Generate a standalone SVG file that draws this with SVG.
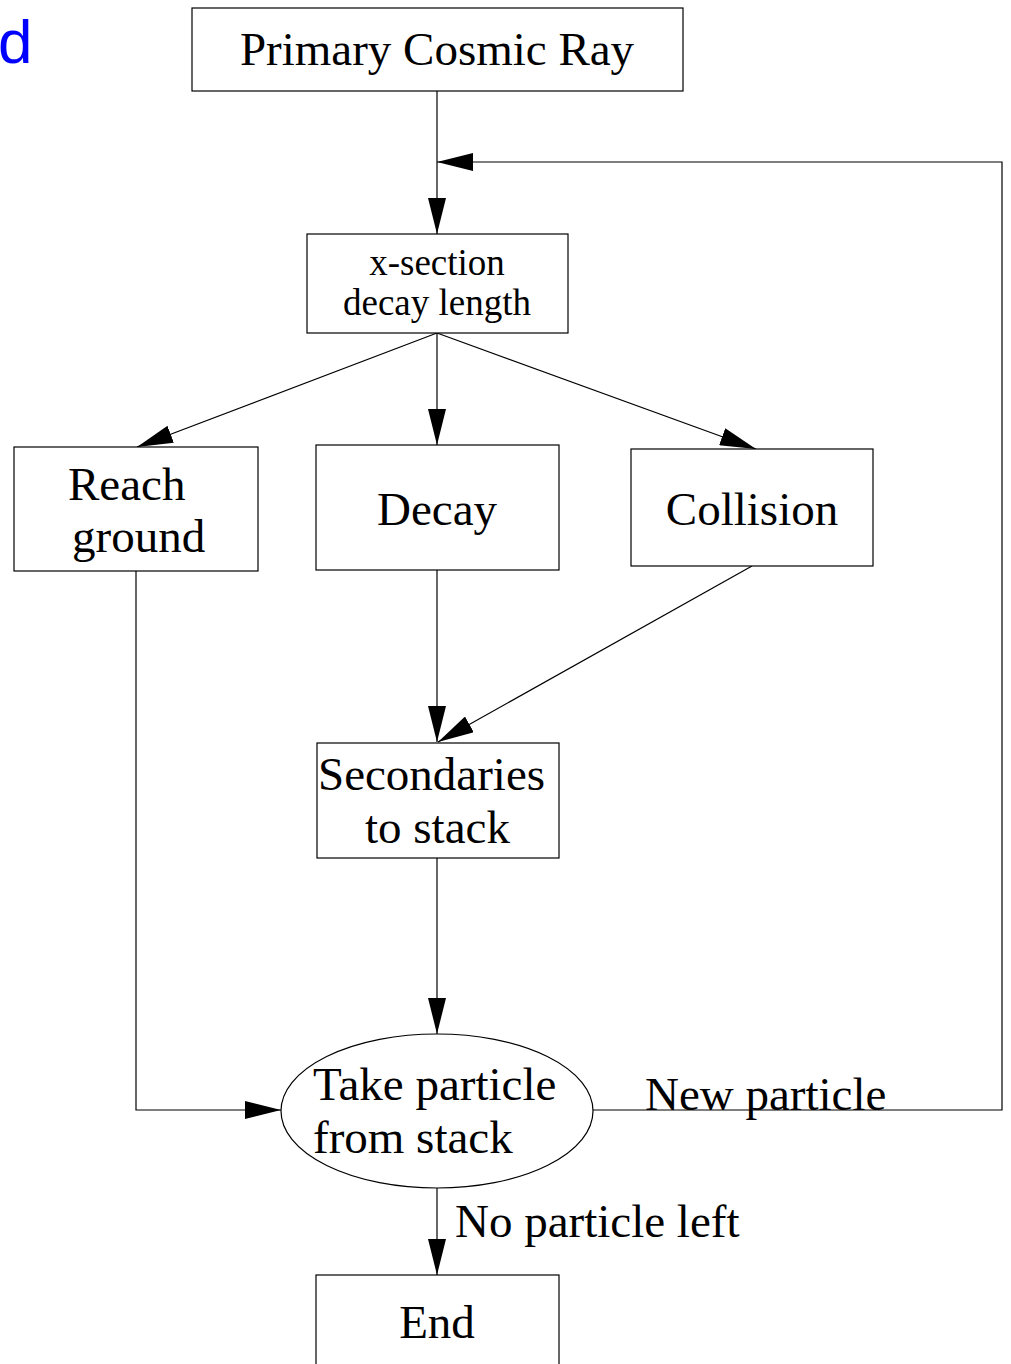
<svg xmlns="http://www.w3.org/2000/svg" width="1011" height="1364" viewBox="0 0 1011 1364">
<style>
.box{fill:#fff;stroke:#000;stroke-width:1.2}
.t{font-family:"Liberation Serif","Times New Roman",serif;font-size:47px;fill:#000}
.ts{font-family:"Liberation Serif","Times New Roman",serif;font-size:37px;fill:#000}
.c{fill:none;stroke:#000;stroke-width:1.2}
</style>
<defs>
<marker id="ah" viewBox="0 0 36 18" refX="36" refY="9" markerWidth="36" markerHeight="18" markerUnits="userSpaceOnUse" orient="auto">
<path d="M0,0 L36,9 L0,18 Z" fill="#000"/>
</marker>
</defs>
<rect width="1011" height="1364" fill="#fff"/>
<text x="-2" y="63" font-family="Liberation Sans, Arial, sans-serif" font-size="62" fill="#0000ff">d</text>
<g id="connectors">
<line class="c" x1="437" y1="91" x2="437" y2="234" marker-end="url(#ah)"/>
<polyline class="c" points="593,1110 1002,1110 1002,162 437,162" marker-end="url(#ah)"/>
<line class="c" x1="437" y1="333" x2="137" y2="447" marker-end="url(#ah)"/>
<line class="c" x1="437" y1="333" x2="437" y2="445" marker-end="url(#ah)"/>
<line class="c" x1="437" y1="333" x2="756" y2="449" marker-end="url(#ah)"/>
<line class="c" x1="437" y1="570" x2="437" y2="742" marker-end="url(#ah)"/>
<line class="c" x1="752" y1="566" x2="438" y2="742" marker-end="url(#ah)"/>
<line class="c" x1="437" y1="858" x2="437" y2="1034" marker-end="url(#ah)"/>
<polyline class="c" points="136,571 136,1110 281,1110" marker-end="url(#ah)"/>
<line class="c" x1="437" y1="1188" x2="437" y2="1275" marker-end="url(#ah)"/>
<text class="t" x="645" y="1110">New particle</text>
<text class="t" x="455" y="1237">No particle left</text>
</g>
<g id="primary">
<rect class="box" x="192" y="8" width="491" height="83"/>
<text class="t" x="437" y="65" text-anchor="middle">Primary Cosmic Ray</text>
</g>
<g id="xsection">
<rect class="box" x="307" y="234" width="261" height="99"/>
<text class="ts" x="437" y="275" text-anchor="middle">x-section</text>
<text class="ts" x="437" y="315" text-anchor="middle">decay length</text>
</g>
<g id="reach">
<rect class="box" x="14" y="447" width="244" height="124"/>
<text class="t" x="68" y="500">Reach</text>
<text class="t" x="72" y="552">ground</text>
</g>
<g id="decay">
<rect class="box" x="316" y="445" width="243" height="125"/>
<text class="t" x="437" y="525" text-anchor="middle">Decay</text>
</g>
<g id="collision">
<rect class="box" x="631" y="449" width="242" height="117"/>
<text class="t" x="752" y="525" text-anchor="middle">Collision</text>
</g>
<g id="secondaries">
<rect class="box" x="317" y="743" width="242" height="115"/>
<text class="t" x="318" y="790">Secondaries</text>
<text class="t" x="365" y="843">to stack</text>
</g>
<g id="stack">
<ellipse class="box" cx="437" cy="1111" rx="156" ry="77"/>
<text class="t" x="313" y="1100">Take particle</text>
<text class="t" x="313" y="1153">from stack</text>
</g>
<g id="end">
<rect class="box" x="316" y="1275" width="243" height="100"/>
<text class="t" x="437" y="1338" text-anchor="middle">End</text>
</g>
</svg>
